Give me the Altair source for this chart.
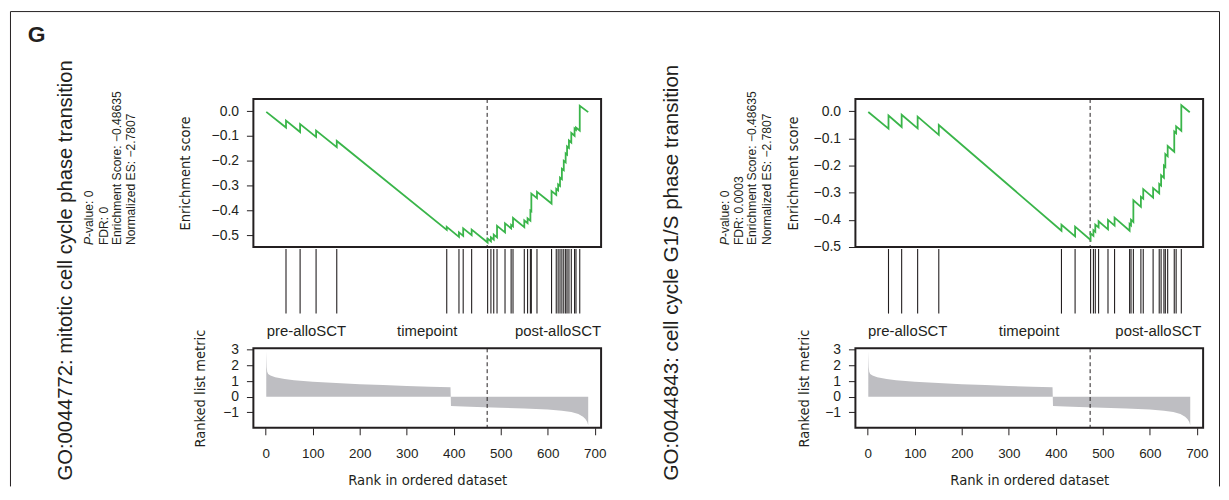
import altair as alt
import pandas as pd

# ------------------------------------------------------------------ data
X_DOMAIN = [-26.4, 713.4]
RANK_TICKS = [0, 100, 200, 300, 400, 500, 600, 700]
ES_TICKS = [0.0, -0.1, -0.2, -0.3, -0.4, -0.5]
METRIC_TICKS = [-1, 0, 1, 2, 3]
PHENO_LABELS = ["pre-alloSCT", "timepoint", "post-alloSCT"]

L_TITLE = "GO:0044772: mitotic cell cycle phase transition"
L_STATS = ["-value: 0", "FDR: 0", "Enrichment Score: \u22120.48635", "Normalized ES: \u22122.7807"]
R_TITLE = "GO:0044843: cell cycle G1/S phase transition"
R_STATS = ["-value: 0", "FDR: 0.0003", "Enrichment Score: \u22120.48635", "Normalized ES: \u22122.7807"]

L_HITS = [43, 73, 107, 151, 385, 411, 420, 438, 472, 479, 485, 492, 509, 522, 526,
          550, 557, 563, 565, 577, 608, 618, 622, 626, 630, 634, 638, 641, 645, 650,
          657, 660, 668]
L_ES_RANK = [1, 43, 43, 73, 73, 107, 107, 151, 151, 385, 385, 411, 411, 420, 420,
             438, 438, 472, 472, 479, 479, 485, 485, 492, 492, 509, 509, 522, 522,
             526, 526, 550, 550, 557, 557, 563, 563, 565, 565, 577, 577, 608, 608,
             618, 618, 622, 622, 626, 626, 630, 630, 634, 634, 638, 638, 641, 641,
             645, 645, 650, 650, 657, 657, 660, 660, 668, 668, 686]
L_ES_VAL = [-0.003, -0.066, -0.038, -0.084, -0.052, -0.104, -0.078, -0.145, -0.120,
            -0.478, -0.466, -0.506, -0.488, -0.502, -0.472, -0.499, -0.477, -0.529,
            -0.513, -0.524, -0.508, -0.517, -0.497, -0.508, -0.462, -0.488, -0.452,
            -0.472, -0.458, -0.464, -0.430, -0.467, -0.440, -0.451, -0.432, -0.441,
            -0.400, -0.403, -0.332, -0.350, -0.325, -0.372, -0.322, -0.337, -0.313,
            -0.319, -0.295, -0.301, -0.268, -0.274, -0.232, -0.238, -0.200, -0.206,
            -0.170, -0.175, -0.142, -0.148, -0.118, -0.126, -0.088, -0.099, -0.070,
            -0.075, -0.066, -0.078, 0.022, -0.004]
L_ES_DOMAIN = [-0.547, 0.049]
L_PEAK_RANK = 471

R_HITS = [44, 72, 106, 151, 412, 441, 474, 480, 484, 491, 511, 525, 557, 560, 565,
          581, 586, 607, 620, 624, 630, 633, 638, 652, 656, 667]
R_ES_RANK = [1, 44, 44, 72, 72, 106, 106, 151, 151, 412, 412, 441, 441, 474, 474,
             480, 480, 484, 484, 491, 491, 511, 511, 525, 525, 557, 557, 560, 560,
             565, 565, 581, 581, 586, 586, 607, 607, 620, 620, 624, 624, 630, 630,
             633, 633, 638, 638, 652, 652, 656, 656, 667, 667, 685]
R_ES_VAL = [-0.003, -0.064, -0.016, -0.058, -0.013, -0.063, -0.020, -0.087, -0.051,
            -0.440, -0.418, -0.461, -0.425, -0.474, -0.450, -0.459, -0.438, -0.444,
            -0.418, -0.428, -0.405, -0.435, -0.400, -0.421, -0.392, -0.440, -0.415,
            -0.420, -0.400, -0.408, -0.328, -0.352, -0.315, -0.322, -0.287, -0.318,
            -0.283, -0.302, -0.268, -0.274, -0.236, -0.245, -0.200, -0.205, -0.158,
            -0.166, -0.128, -0.149, -0.075, -0.081, -0.056, -0.072, 0.022, -0.004]
R_ES_DOMAIN = [-0.5, 0.045]
R_PEAK_RANK = 473

METRIC_RANK = [1, 2, 3, 5, 10, 20, 40, 60, 100, 150, 200, 250, 300, 350, 393,
               394, 420, 450, 500, 550, 600, 630, 650, 665, 675, 680, 684, 686]
METRIC_VAL = [2.90, 1.90, 1.60, 1.45, 1.35, 1.25, 1.13, 1.05, 0.95, 0.87, 0.80, 0.74,
              0.69, 0.64, 0.60, -0.60, -0.63, -0.66, -0.70, -0.75, -0.82, -0.90,
              -0.98, -1.10, -1.28, -1.42, -1.62, -1.82]
METRIC_DOMAIN = [-1.99, 3.09]

# ------------------------------------------------------------------ style
FONT = "Liberation Sans, Arial, Helvetica, sans-serif"
NARROW = "'DejaVu Sans Condensed', 'Liberation Sans', sans-serif"
INK = "#231F20"
GREEN = "#3AB54A"
GREY = "#BEBEC2"
W = 350
H_ES, H_BAR, H_MET = 149, 98, 80

xs = alt.Scale(domain=X_DOMAIN, nice=False, zero=False)


def txt(s, x, y, size, angle=270, align="left", baseline="middle",
        italic=False, weight="normal"):
    return alt.Chart(pd.DataFrame({"t": [s]})).mark_text(
        angle=angle, align=align, baseline=baseline, font=FONT, fontSize=size,
        fontStyle="italic" if italic else "normal", fontWeight=weight, color=INK
    ).encode(text="t:N", x=alt.value(x), y=alt.value(y))


def yaxis(values, fmt, title, title_x, title_y):
    return alt.Axis(values=values, format=fmt, title=title, titleFont=NARROW,
                    titleFontSize=14.6, titleFontWeight="normal", titleColor=INK,
                    titleAngle=270, titleX=title_x, titleY=title_y,
                    titleAlign="center", titleBaseline="middle",
                    labelFont=FONT, labelFontSize=14, labelColor=INK,
                    tickColor=INK, tickSize=7, tickWidth=1, labelPadding=8,
                    domain=False, grid=False)


XAXIS = alt.Axis(values=RANK_TICKS, format="d", title="Rank in ordered dataset",
                 titleFont=NARROW, titleFontSize=14.8, titleFontWeight="normal",
                 titleColor=INK, titleX=W / 2, titleY=53, titleAlign="center",
                 titleBaseline="middle", labelFont=FONT, labelFontSize=13.5,
                 labelColor=INK, tickColor=INK, tickSize=7, tickWidth=1,
                 labelPadding=12, domain=False, grid=False)


def es_panel(ranks, vals, ydom, peak, title, title_size, stats, tx, sx, title_x, extra):
    df = pd.DataFrame({"rank": ranks, "es": vals, "i": list(range(len(ranks)))})
    ys = alt.Scale(domain=ydom, nice=False, zero=False)
    dash = alt.Chart(pd.DataFrame({"rank": [peak]})).mark_rule(
        color=INK, strokeWidth=1, strokeDash=[4, 3]
    ).encode(x=alt.X("rank:Q", scale=xs, axis=None))
    line = alt.Chart(df).mark_line(color=GREEN, strokeWidth=1.8).encode(
        x=alt.X("rank:Q", scale=xs, axis=None),
        y=alt.Y("es:Q", scale=ys,
                axis=yaxis(ES_TICKS, ".1f", "Enrichment score", title_x, H_ES / 2)),
        order="i:Q",
    )
    layers = [dash, line]
    layers.append(txt(title, tx, 384, title_size))
    layers.append(txt("P", sx[0], 147, 12.2, italic=True))
    layers.append(txt(stats[0], sx[0], 147 - 8.1, 12.2))
    for k in range(1, 4):
        layers.append(txt(stats[k], sx[k], 147, 12.2))
    layers += extra
    return alt.layer(*layers).properties(width=W, height=H_ES)


def bar_panel(hits, lab_x):
    df = pd.DataFrame({"rank": hits})
    rules = alt.Chart(df).mark_rule(color=INK, strokeWidth=1.1).encode(
        x=alt.X("rank:Q", scale=xs, axis=None), y=alt.value(0), y2=alt.value(65))
    labs = [txt(PHENO_LABELS[0], lab_x[0], 83, 15, angle=0, align="left"),
            txt(PHENO_LABELS[1], lab_x[1], 83, 15, angle=0, align="center"),
            txt(PHENO_LABELS[2], lab_x[2], 83, 15, angle=0, align="right")]
    return alt.layer(rules, *labs).properties(
        width=W, height=H_BAR, view=alt.ViewBackground(strokeOpacity=0))


def metric_panel(peak, title_x):
    df = pd.DataFrame({"rank": METRIC_RANK, "val": METRIC_VAL})
    ys = alt.Scale(domain=METRIC_DOMAIN, nice=False, zero=False)
    area = alt.Chart(df).mark_area(color=GREY, opacity=1).encode(
        x=alt.X("rank:Q", scale=xs, axis=XAXIS),
        y=alt.Y("val:Q", scale=ys,
                axis=yaxis(METRIC_TICKS, "d", "Ranked list metric", title_x, H_MET / 2)),
        y2=alt.datum(0),
    )
    dash = alt.Chart(pd.DataFrame({"rank": [peak]})).mark_rule(
        color=INK, strokeWidth=1, strokeDash=[4, 3]
    ).encode(x=alt.X("rank:Q", scale=xs, axis=XAXIS))
    return alt.layer(area, dash).properties(width=W, height=H_MET)


border = [
    alt.Chart(pd.DataFrame({"b": [0]})).mark_rule(color=INK, strokeWidth=1).encode(
        x=alt.value(-244.5), x2=alt.value(972.5), y=alt.value(-88)),
    alt.Chart(pd.DataFrame({"b": [0]})).mark_rule(color=INK, strokeWidth=1).encode(
        x=alt.value(-244.5), y=alt.value(-88), y2=alt.value(390)),
    alt.Chart(pd.DataFrame({"b": [0]})).mark_rule(color=INK, strokeWidth=1).encode(
        x=alt.value(972.5), y=alt.value(-88), y2=alt.value(390)),
    txt("G", -227, -57.5, 23, angle=0, align="left", baseline="alphabetic",
        weight="bold"),
]

es_L = es_panel(L_ES_RANK, L_ES_VAL, L_ES_DOMAIN, L_PEAK_RANK, L_TITLE, 20.3, L_STATS,
                -188.5, [-165.2, -150.5, -136.8, -123.5], -68.5, border)
es_R = es_panel(R_ES_RANK, R_ES_VAL, R_ES_DOMAIN, R_PEAK_RANK, R_TITLE, 20.7, R_STATS,
                -184.2, [-130.9, -117.5, -104.2, -89.2], -62.5, [])
bar_L = bar_panel(L_HITS, [13.4, 175, 350])
bar_R = bar_panel(R_HITS, [12.7, 174.8, 348.3])
met_L = metric_panel(L_PEAK_RANK, -53.5)
met_R = metric_panel(R_PEAK_RANK, -51)

chart = alt.concat(
    es_L, es_R, bar_L, bar_R, met_L, met_R,
    columns=2, spacing={"row": 2, "column": 256}, bounds="flush", align="each",
).properties(
    padding={"left": 1, "top": 0, "right": 0, "bottom": 0},
).configure_view(stroke=INK, strokeWidth=2)

chart.save("out.html", embed_options={"renderer": "svg", "actions": False})
